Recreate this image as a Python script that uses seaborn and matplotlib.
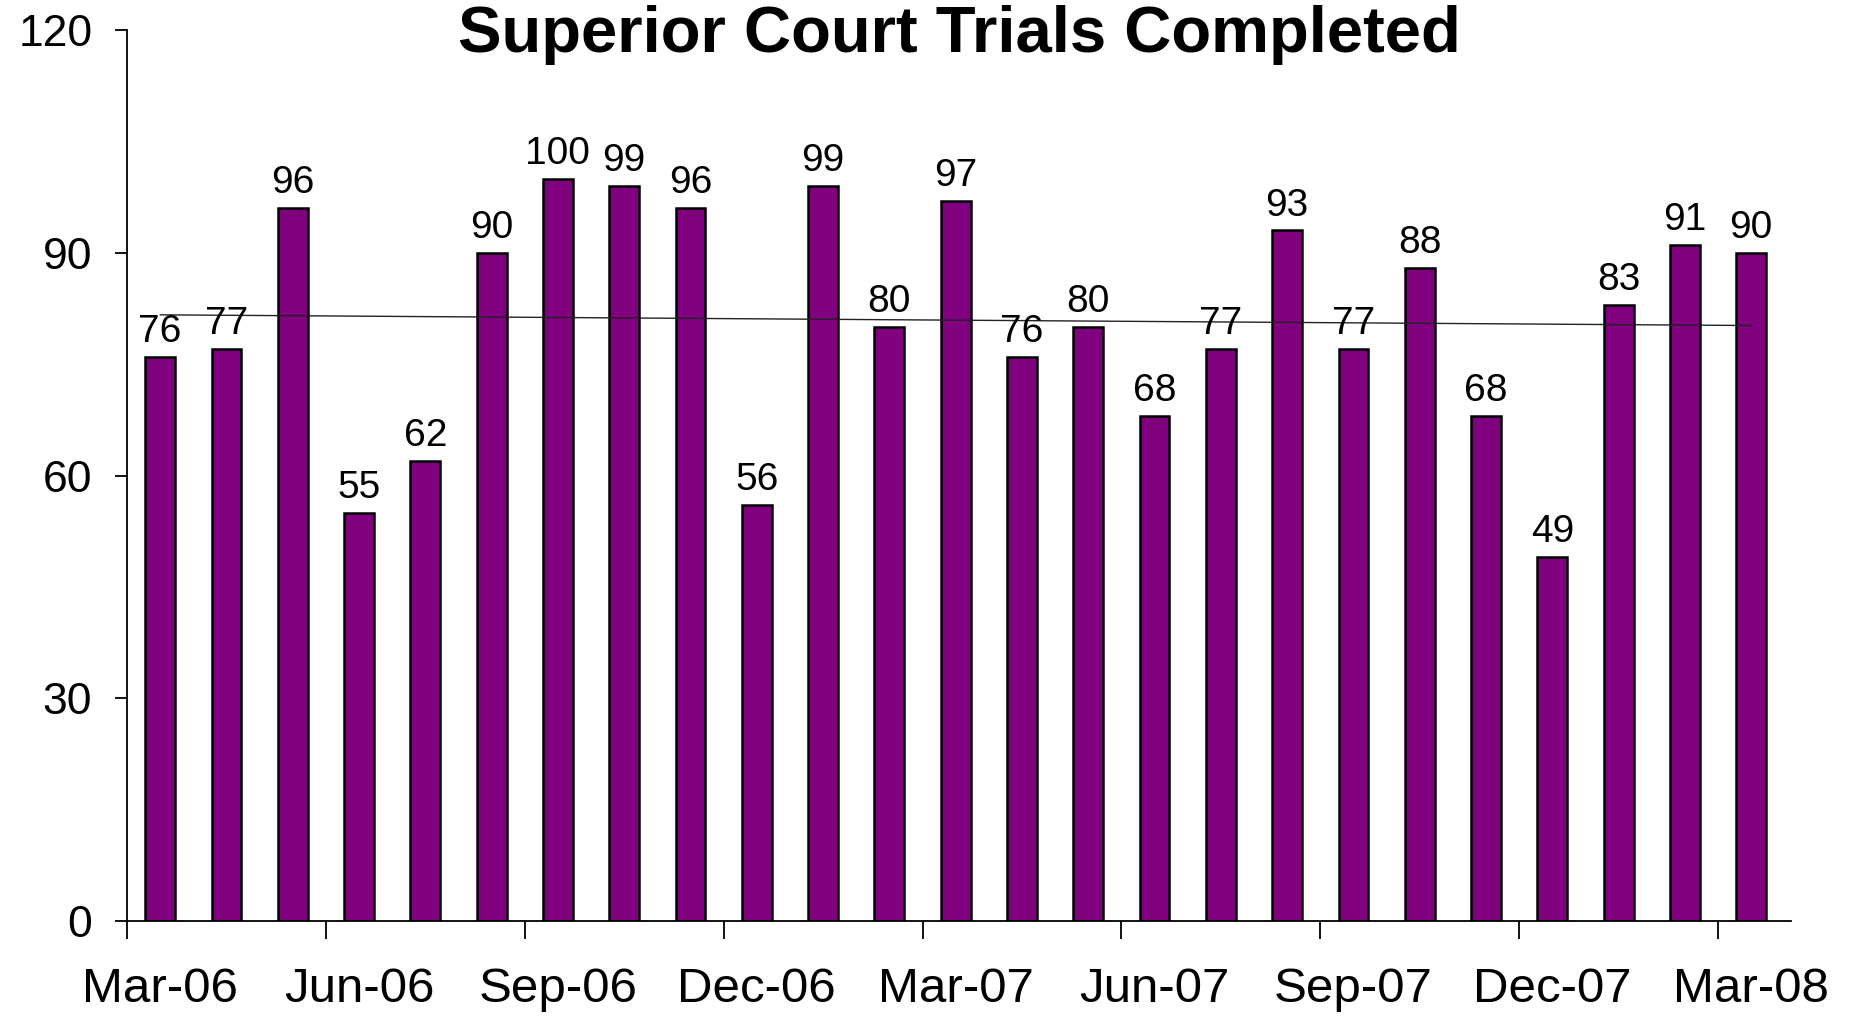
import numpy as np
import pandas as pd
import seaborn as sns
import matplotlib.pyplot as plt

# dados
meses = ['Mar-06', 'Apr-06', 'May-06', 'Jun-06', 'Jul-06', 'Aug-06', 'Sep-06',
         'Oct-06', 'Nov-06', 'Dec-06', 'Jan-07', 'Feb-07', 'Mar-07', 'Apr-07',
         'May-07', 'Jun-07', 'Jul-07', 'Aug-07', 'Sep-07', 'Oct-07', 'Nov-07',
         'Dec-07', 'Jan-08', 'Feb-08', 'Mar-08']
julgamentos = [76, 77, 96, 55, 62, 90, 100, 99, 96, 56, 99, 80, 97, 76, 80,
               68, 77, 93, 77, 88, 68, 49, 83, 91, 90]

df = pd.DataFrame({'mes': meses, 'total': julgamentos})

sns.set_style('white')
plt.rcParams['font.family'] = ['Liberation Sans', 'DejaVu Sans']
plt.rcParams['text.color'] = 'black'
plt.rcParams['xtick.color'] = 'black'
plt.rcParams['ytick.color'] = 'black'

W, H = 1857, 1027
fig = plt.figure(figsize=(W / 100, H / 100), dpi=100)
left, right, top, bottom = 127, 1791, 30, 921
ax = fig.add_axes([left / W, 1 - bottom / H, (right - left) / W, (bottom - top) / H])

sns.barplot(data=df, x='mes', y='total', order=meses, color='#800080',
            saturation=1, width=0.45, edgecolor='black', linewidth=1.8, ax=ax)

# linha de tendência linear
pos = np.arange(len(meses))
coef = np.polyfit(pos, julgamentos, 1)
ax.plot(pos, np.polyval(coef, pos), color='#222222', lw=1)

# rótulos de dados
for x, y in zip(pos, julgamentos):
    ax.annotate(f'{y}', (x, y), xytext=(0, 5), textcoords='offset points',
                ha='center', va='bottom', fontsize=28, color='black')

ax.set_xlim(-0.5, len(meses) - 0.4)
ax.set_ylim(0, 120)
ax.set_yticks([0, 30, 60, 90, 120])
ax.set_xticks(pos[::3])
ax.set_xticklabels(meses[::3])
ax.set_xticks(np.arange(-0.5, len(meses), 3), minor=True)
ax.tick_params(axis='x', which='major', length=0, pad=33, labelsize=35.5)
ax.tick_params(axis='x', which='minor', length=13, width=1.3, color='black',
               direction='out', bottom=True)
ax.tick_params(axis='y', length=9, width=1.3, color='black', direction='out',
               left=True, pad=16, labelsize=32)
ax.set_xlabel('')
ax.set_ylabel('')

sns.despine(ax=ax)
for s in ['left', 'bottom']:
    ax.spines[s].set_color('black')
    ax.spines[s].set_linewidth(1.3)

fig.text(959 / W, 1 - 35 / H, 'Superior Court Trials Completed', ha='center',
         va='center', fontsize=47, fontweight='bold', color='black')

plt.savefig('out.png', dpi=100)
